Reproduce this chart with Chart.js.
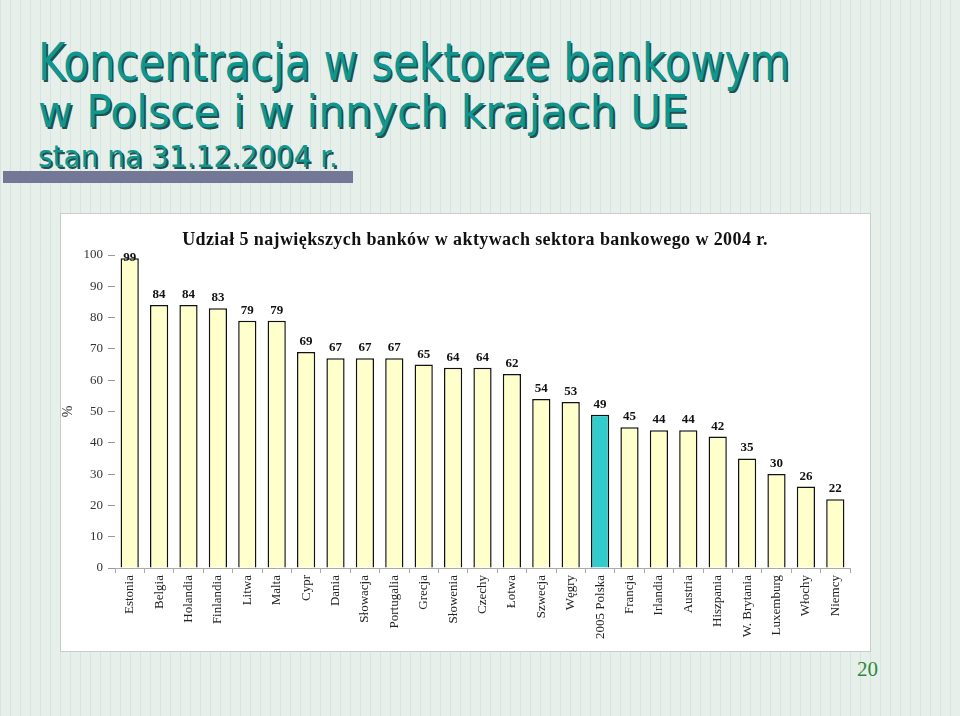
<!DOCTYPE html>
<html>
<head>
<meta charset="utf-8">
<script src="https://cdn.jsdelivr.net/npm/chart.js@4.4.1/dist/chart.umd.min.js"></script>
<style>
  html, body { margin: 0; padding: 0; }
  body {
    width: 960px; height: 716px; position: relative; overflow: hidden;
    background-color: #e7efeb;
    background-image: repeating-linear-gradient(90deg, rgba(140,170,158,0.17) 0 1px, transparent 1px 10px);
  }
  .t {
    position: absolute; left: 38px; white-space: nowrap; line-height: 1;
    font-family: "DejaVu Sans", sans-serif; color: #10968f;
    text-shadow: 2px 2px 0 #22504c; transform-origin: 0 0;
  }
  #t1 { top: 37px; font-size: 51px; }
  #t2 { top: 90px; font-size: 44px; }
  #t3 { top: 142px; font-size: 30px; }
  #bar { position: absolute; left: 3px; top: 171px; width: 350px; height: 12px; background: #737896; }
  #panel { position: absolute; left: 60px; top: 213px; width: 809px; height: 437px; background: #fff; border: 1px solid #c6cfcb; }
  #wrap { position: absolute; left: 60px; top: 213px; width: 810px; height: 438px; }
  #page { position: absolute; left: 857px; top: 657px; font: 21px "Liberation Serif", serif; color: #2b8a3a; }
</style>
</head>
<body>
<div class="t" id="t1" data-w="752">Koncentracja w sektorze bankowym</div>
<div class="t" id="t2" data-w="650">w Polsce i w innych krajach UE</div>
<div class="t" id="t3" data-w="300">stan na 31.12.2004 r.</div>
<div id="bar"></div>
<div id="panel"></div>
<div id="wrap"><canvas id="chart"></canvas></div>
<div id="page">20</div>
<script>
// data
const chartTitle = "Udział 5 największych banków w aktywach sektora bankowego w 2004 r."
const categories = ["Estonia", "Belgia", "Holandia", "Finlandia", "Litwa", "Malta", "Cypr", "Dania",
  "Słowacja", "Portugalia", "Grecja", "Słowenia", "Czechy", "Łotwa", "Szwecja", "Węgry",
  "2005 Polska", "Francja", "Irlandia", "Austria", "Hiszpania", "W. Brytania", "Luxemburg", "Włochy", "Niemcy"]
const values = [99, 84, 84, 83, 79, 79, 69, 67, 67, 67, 65, 64, 64, 62, 54, 53, 49, 45, 44, 44, 42, 35, 30, 26, 22]
const highlight = "2005 Polska"
const yTicks = [0, 10, 20, 30, 40, 50, 60, 70, 80, 90, 100]

// squeeze the slide heading to the widths in the original
document.querySelectorAll(".t").forEach((el) => {
  const w = el.getBoundingClientRect().width
  el.style.transform = "scaleX(" + (el.dataset.w / w) + ")"
})

const serif = "'Liberation Serif', 'Times New Roman', serif"

// chart heading (spaced out like the original) + numbers over the bars
const valueLabels = {
  id: "valueLabels",
  afterDatasetsDraw(chart) {
    const ctx = chart.ctx
    const area = chart.chartArea
    ctx.save()
    ctx.font = "bold 13px " + serif
    ctx.fillStyle = "#111"
    ctx.textAlign = "center"
    ctx.textBaseline = "alphabetic"
    chart.getDatasetMeta(0).data.forEach((bar, i) => {
      const y = Math.max(bar.y - 7, area.top + 6)
      ctx.fillText(values[i], bar.x, y)
    })
    ctx.font = "bold 18px " + serif
    ctx.letterSpacing = "0.4px"
    ctx.textBaseline = "middle"
    ctx.fillText(chartTitle, 415, 27)
    ctx.restore()
  },
}

new Chart(document.getElementById("chart"), {
  type: "bar",
  data: {
    labels: categories,
    datasets: [
      {
        data: values,
        backgroundColor: categories.map((c) => (c === highlight ? "#33cccc" : "#ffffcc")),
        borderColor: "#111",
        borderWidth: 1.5,
        barPercentage: 0.62,
        categoryPercentage: 1,
      },
    ],
  },
  options: {
    responsive: true,
    maintainAspectRatio: false,
    animation: false,
    layout: { padding: { left: 0, right: 20, top: 42, bottom: 0 } },
    plugins: {
      legend: { display: false },
      tooltip: { enabled: false },
      title: { display: false },
    },
    scales: {
      x: {
        grid: { drawOnChartArea: false, tickLength: 5, color: "#aaa" },
        border: { color: "#aaa" },
        ticks: {
          autoSkip: false, minRotation: 90, maxRotation: 90, padding: 2,
          color: "#222", font: { family: serif, size: 13 },
        },
        afterFit(scale) { scale.height = 83 },
      },
      y: {
        min: 0,
        max: 100,
        afterBuildTicks(scale) { scale.ticks = yTicks.map((v) => ({ value: v })) },
        grid: { drawOnChartArea: false, tickLength: 7, color: "#999" },
        border: { display: false },
        ticks: { padding: 5, color: "#333", font: { family: serif, size: 13 } },
        title: { display: true, text: "%", color: "#333", font: { family: serif, size: 14 }, padding: 0 },
        afterFit(scale) { scale.width = 55 },
      },
    },
  },
  plugins: [valueLabels],
})
</script>
</body>
</html>
